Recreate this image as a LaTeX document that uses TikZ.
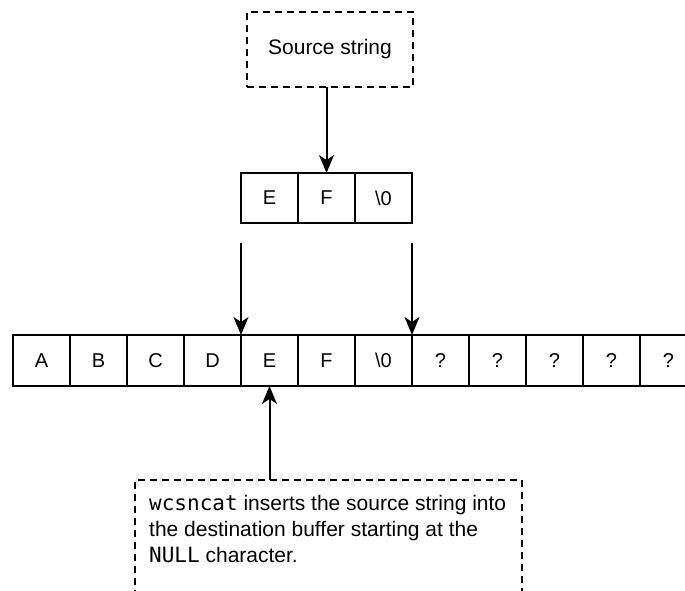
\documentclass[tikz,border=0pt]{standalone}
\usepackage{fontspec}
\setmainfont{Liberation Sans}
\newfontfamily\codefont{DejaVu Sans Mono}
\usetikzlibrary{arrows.meta,calc}

\tikzset{
  cell/.style={draw, line width=2pt, minimum width=57pt, minimum height=50pt,
    inner sep=0pt, outer sep=0pt, font=\fontsize{20}{24}\selectfont},
  dashbox/.style={draw, line width=1.8pt, dash pattern=on 7pt off 5pt, inner sep=0pt, outer sep=0pt},
  arr/.style={line width=2pt, -{Stealth[length=18pt, width=15pt, inset=5pt]}},
  label/.style={font=\fontsize{21}{26}\selectfont, inner sep=0pt}
}

\begin{document}
\begin{tikzpicture}[x=1pt, y=-1pt]
  \clip (0,0) rectangle (685,590);
  \fill[white] (0,0) rectangle (685,590);

  % source string box
  \node[dashbox, minimum width=166pt, minimum height=75pt] (src) at (330,49.5) {};
  \node[label] (srctext) at (src.center) {Source string};

  % source characters
  \foreach \t [count=\i] in {E,F,\textbackslash 0} {
    \node[cell] (s\i) at ({241+28.5+57*(\i-1)},198) {\t};
  }

  % destination buffer
  \foreach \t [count=\i] in {A,B,C,D,E,F,\textbackslash 0,?,?,?,?,?} {
    \node[cell, minimum height=51pt] (b\i) at ({13+28.5+57*(\i-1)},360.5) {\t};
  }

  % explanatory note (runs off the bottom edge)
  \node[dashbox, minimum width=387pt, minimum height=160pt, anchor=north west] (note) at (135,480) {};
  \node[label, anchor=north west, align=left] (notetext) at (149,495)
    {{\codefont wcsncat} inserts the source string into\\
     the destination buffer starting at the\\
     {\codefont NULL} character.};

  % connectors
  \draw[arr] (s2.north |- src.south) -- (s2.north);
  \coordinate (d1) at ($(s1.south west)+(0,20)$);
  \coordinate (d2) at ($(s3.south east)+(0,20)$);
  \draw[arr] (d1) -- (b5.north west);
  \draw[arr] (d2) -- (b8.north west);
  \draw[arr] (b5.south |- note.north) -- (b5.south);
\end{tikzpicture}
\end{document}
